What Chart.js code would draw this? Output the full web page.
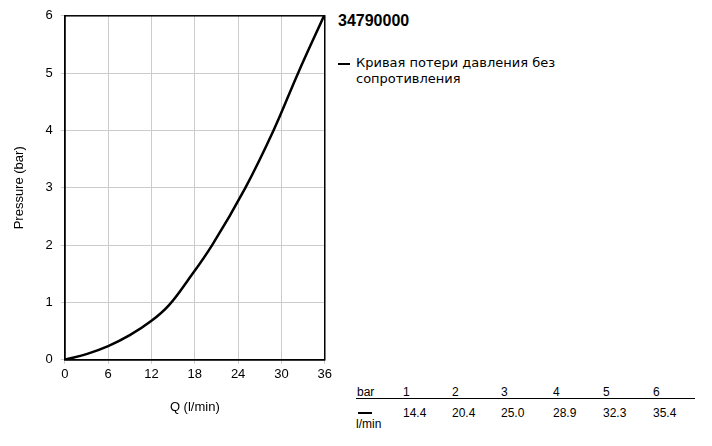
<!DOCTYPE html>
<html><head><meta charset="utf-8">
<script src="https://cdn.jsdelivr.net/npm/chart.js@4"></script>
<style>
body{margin:0;width:712px;height:446px;background:#fff;font-family:"Liberation Sans",Arial,sans-serif;position:relative;overflow:hidden}
#wrap{position:absolute;left:0;top:0;width:335px;height:446px}
.abs{position:absolute;color:#000}
#title{left:338px;top:12px;font-weight:bold;font-size:16px}
#leg{left:338px;top:55px;font-size:13px;line-height:16px;font-family:"DejaVu Sans",sans-serif}
#leg span{display:inline-block;width:12px;height:2px;background:#000;vertical-align:middle;margin-right:6px}
#tbl{left:356px;top:385px;width:340px;font-size:12px}
</style></head><body>
<div id="wrap"><canvas id="c"></canvas></div>
<div class="abs" id="title">34790000</div>
<div class="abs" id="leg"><span></span>Кривая потери давления без<br><span style="visibility:hidden"></span>сопротивления</div>
<div class="abs" id="tbl"></div>
<script>
const flow = [0, 3, 6, 9, 12, 14.4, 17, 20.4, 25, 28.9, 32.3, 35.9];
const pressure = [0, 0.1, 0.24, 0.43, 0.68, 0.95, 1.38, 2, 3, 4, 5, 6];
const barLabels = ['1','2','3','4','5','6'];
const flowAtBar = ['14.4','20.4','25.0','28.9','32.3','35.4'];

const colX = [47, 96, 145, 197, 247, 297];
let h = '<div style="position:absolute;left:1px;top:0">bar</div>';
barLabels.forEach((b,i)=>{ h += `<div style="position:absolute;left:${colX[i]}px;top:0">${b}</div>`; });
h += '<div style="position:absolute;left:0;top:13px;width:339px;height:1px;background:#000"></div>';
h += '<div style="position:absolute;left:2px;top:27px;width:14px;height:2px;background:#000"></div>';
h += '<div style="position:absolute;left:0;top:32px">l/min</div>';
flowAtBar.forEach((f,i)=>{ h += `<div style="position:absolute;left:${colX[i]}px;top:21px">${f}</div>`; });
document.getElementById('tbl').innerHTML = h;

new Chart(document.getElementById('c'), {
  type: 'line',
  data: { datasets: [{ data: flow.map((x,i)=>({x, y: pressure[i]})), borderColor:'#000', borderWidth:2.5, pointRadius:0, tension:0.4 }] },
  options: {
    responsive:true, maintainAspectRatio:false, animation:false,
    layout:{ padding:{ top:15, right:10, bottom:27, left:8 } },
    plugins:{ legend:{display:false}, tooltip:{enabled:false} },
    scales:{
      x:{ type:'linear', min:0, max:36, ticks:{ stepSize:6, color:'#000', font:{size:13} },
          grid:{ color:'#ccc', tickLength:4 }, border:{color:'#000', width:1.5},
          title:{ display:true, text:'Q (l/min)', color:'#000', font:{size:13}, padding:{top:14} } },
      y:{ min:0, max:6, ticks:{ stepSize:1, color:'#000', font:{size:13}, padding:8 },
          grid:{ color:'#ccc', tickLength:4 }, border:{color:'#000', width:1.5},
          title:{ display:true, text:'Pressure (bar)', color:'#000', font:{size:13}, padding:{bottom:10} } }
    }
  },
  plugins:[{ id:'frame', afterDraw(ch){ const a=ch.chartArea, c=ch.ctx; c.save(); c.strokeStyle='#000'; c.lineWidth=1.5; c.strokeRect(a.left,a.top,a.right-a.left,a.bottom-a.top); c.restore(); } }]
});
</script>
</body></html>
